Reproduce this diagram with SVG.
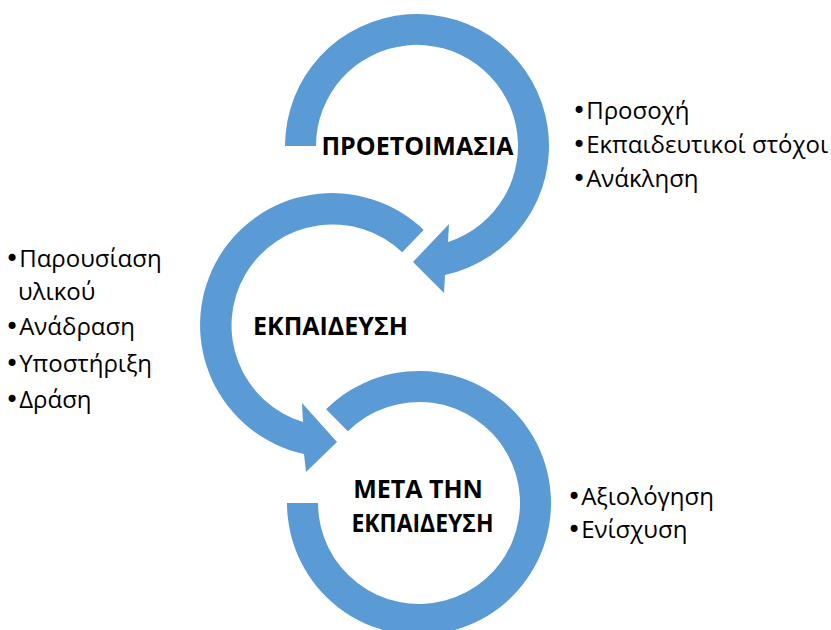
<svg xmlns="http://www.w3.org/2000/svg" width="831" height="630" viewBox="0 0 831 630">
  <style>
    .ring { fill: #5B9BD5; stroke: none; }
    .title { font-family: "Open Sans", "Noto Sans", "DejaVu Sans", sans-serif; font-weight: 700; font-size: 25px; fill: #000; text-anchor: middle; }
    .note { font-family: "Open Sans", "Noto Sans", "DejaVu Sans", sans-serif; font-size: 24px; fill: #000; }
    .dot { font-family: "DejaVu Sans", sans-serif; }
  </style>
  <rect width="831" height="630" fill="#ffffff"/>

  <!-- Stage 1: preparation (ring centred at 417,146, arrow head at the bottom) -->
  <g id="stage-preparation">
    <path class="ring" d="M285,146 A132,132 0 1 1 445,275 L444,293 L413,262 L449,224 L448,242 A101,101 0 1 0 316,146 Z"/>
    <text class="title" x="417.5" y="155">ΠΡΟΕΤΟΙΜΑΣΙΑ</text>
    <text class="note" x="572" y="119"><tspan class="dot">•</tspan>Προσοχή</text>
    <text class="note" x="572" y="153"><tspan class="dot">•</tspan>Εκπαιδευτικοί στόχοι</text>
    <text class="note" x="572" y="187"><tspan class="dot">•</tspan>Ανάκληση</text>
  </g>

  <!-- Stage 2: teaching (ring centred at 332,325, arrow head at the bottom) -->
  <g id="stage-teaching">
    <path class="ring" d="M423.7,230 A132,132 0 1 0 304,454 L306,472 L337,442 L302,403 L303,422 A101,101 0 1 1 402.2,252.3 Z"/>
    <text class="title" x="330.5" y="335">ΕΚΠΑΙΔΕΥΣΗ</text>
    <text class="note" x="5" y="267"><tspan class="dot">•</tspan>Παρουσίαση</text>
    <text class="note" x="18" y="300">υλικού</text>
    <text class="note" x="5" y="335"><tspan class="dot">•</tspan>Ανάδραση</text>
    <text class="note" x="5" y="372"><tspan class="dot">•</tspan>Υποστήριξη</text>
    <text class="note" x="5" y="408"><tspan class="dot">•</tspan>Δράση</text>
  </g>

  <!-- Stage 3: after teaching (open ring centred at 419,503) -->
  <g id="stage-after">
    <path class="ring" d="M287,503 A132,132 0 1 0 326.1,409.2 L347.9,431.2 A101,101 0 1 1 318,503 Z"/>
    <text class="title" x="418" y="498">ΜΕΤΑ ΤΗΝ</text>
    <text class="title" x="422.5" y="532" textLength="142" lengthAdjust="spacingAndGlyphs">ΕΚΠΑΙΔΕΥΣΗ</text>
    <text class="note" x="567" y="505"><tspan class="dot">•</tspan>Αξιολόγηση</text>
    <text class="note" x="567" y="538"><tspan class="dot">•</tspan>Ενίσχυση</text>
  </g>
</svg>
